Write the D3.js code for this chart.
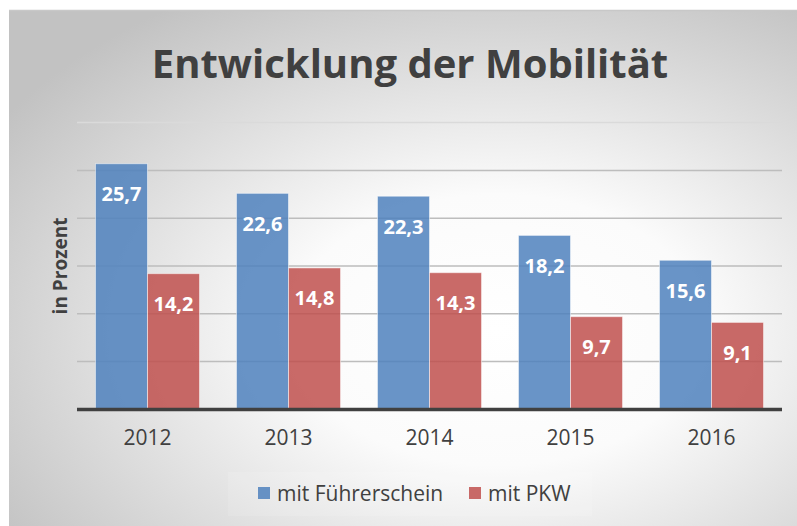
<!DOCTYPE html>
<html>
<head>
<meta charset="utf-8">
<script src="https://cdn.jsdelivr.net/npm/d3@7"></script>
<style>
  body { margin: 0; background: #fff; }
  text { font-family: "Open Sans", "DejaVu Sans", sans-serif; }
</style>
</head>
<body>
<div id="vis"></div>
<script>
var width = 797,
    height = 526;

var years = ["2012", "2013", "2014", "2015", "2016"];
var fuehrerschein = [25.7, 22.6, 22.3, 18.2, 15.6];
var pkw = [14.2, 14.8, 14.3, 9.7, 9.1];
var seriesNames = ["mit Führerschein", "mit PKW"];
var yTicks = [0, 5, 10, 15, 20, 25, 30];

var colors = ["#4f81bd", "#c0504d"];

var margin = {top: 122, right: 15, bottom: 117, left: 77};

var svg = d3.select('#vis').append('svg')
    .attr("width", width)
    .attr("height", height);

// gray radial background like the office chart style
var defs = svg.append("defs");
var grad = defs.append("radialGradient")
    .attr("id", "bg")
    .attr("cx", "62%").attr("cy", "62%")
    .attr("r", "75%");
grad.append("stop").attr("offset", "0%").attr("stop-color", "#ffffff");
grad.append("stop").attr("offset", "35%").attr("stop-color", "#fbfbfb");
grad.append("stop").attr("offset", "100%").attr("stop-color", "#c2c2c2");

svg.append("rect")
    .attr("x", 9).attr("y", 10)
    .attr("width", width - 9).attr("height", height - 10)
    .attr("fill", "url(#bg)");
svg.append("line")
    .attr("x1", 9).attr("x2", width)
    .attr("y1", 10.5).attr("y2", 10.5)
    .attr("stroke", "#c8c8c8").attr("stroke-width", 1.5);

var x0 = d3.scaleBand()
    .domain(years)
    .range([margin.left, width - margin.right])
    .paddingInner(0.262)
    .paddingOuter(0.131);

var x1 = d3.scaleBand()
    .domain([0, 1])
    .range([0, x0.bandwidth()]);

var y = d3.scaleLinear()
    .domain([0, 30])
    .range([409.4, 122.6]);

// gridlines
svg.append("g")
    .selectAll("line")
    .data(yTicks.slice(1))
    .enter()
    .append("line")
    .attr("x1", margin.left)
    .attr("x2", width - margin.right)
    .attr("y1", function(d) { return y(d); })
    .attr("y2", function(d) { return y(d); })
    .attr("stroke", function(d) { return d == 30 ? "#dadada" : "#bdbdbd"; })
    .attr("stroke-width", 1.5);

var rows = years.map(function(yr, i) {
    return {year: yr, values: [fuehrerschein[i], pkw[i]]};
});

var groups = svg.append("g")
    .selectAll("g")
    .data(rows)
    .enter()
    .append("g")
    .attr("transform", function(d) { return "translate(" + x0(d.year) + ",0)"; });

groups.selectAll("rect")
    .data(function(d) { return d.values; })
    .enter()
    .append("rect")
    .attr("x", function(d, i) { return x1(i); })
    .attr("y", function(d) { return y(d); })
    .attr("width", x1.bandwidth())
    .attr("height", function(d) { return y(0) - y(d); })
    .attr("fill", function(d, i) { return colors[i]; })
    .attr("fill-opacity", 0.85)
    .attr("stroke", "#ffffff")
    .attr("stroke-opacity", 0.5)
    .attr("stroke-width", 1);

groups.selectAll("text")
    .data(function(d) { return d.values; })
    .enter()
    .append("text")
    .attr("x", function(d, i) { return x1(i) + x1.bandwidth() / 2; })
    .attr("y", function(d) { return y(d) + 30; })
    .attr("text-anchor", "middle")
    .attr("dominant-baseline", "central")
    .attr("fill", "#fff")
    .attr("font-weight", "bold")
    .attr("font-size", 20)
    .text(function(d) { return String(d).replace(".", ","); });

// baseline axis
svg.append("line")
    .attr("x1", margin.left)
    .attr("x2", width - margin.right)
    .attr("y1", y(0))
    .attr("y2", y(0))
    .attr("stroke", "#404040")
    .attr("stroke-width", 3.5);

var xAxis = svg.append("g")
    .attr("transform", "translate(0," + (y(0) + 21) + ")")
    .call(d3.axisBottom(x0).tickSize(0).tickPadding(0));
xAxis.select(".domain").remove();
xAxis.selectAll("text")
    .attr("font-size", 21)
    .attr("fill", "#404040")
    .attr("font-family", "Open Sans");

// title
svg.append("text")
    .attr("x", 410)
    .attr("y", 78)
    .attr("text-anchor", "middle")
    .attr("font-weight", "bold")
    .attr("font-size", 40)
    .attr("fill", "#404040")
    .text("Entwicklung der Mobilität");

// y axis title
svg.append("text")
    .attr("transform", "translate(67,266) rotate(-90)")
    .attr("text-anchor", "middle")
    .attr("font-weight", "bold")
    .attr("font-size", 19)
    .attr("fill", "#404040")
    .text("in Prozent");

// legend, with the faint light box behind it
svg.append("rect")
    .attr("x", 228).attr("y", 472)
    .attr("width", 364).attr("height", 44)
    .attr("fill", "#fff")
    .attr("fill-opacity", 0.12);

var legendPos = [258, 469];
var legend = svg.append("g")
    .selectAll("g")
    .data(seriesNames)
    .enter()
    .append("g")
    .attr("transform", function(d, i) { return "translate(" + legendPos[i] + ",493)"; });

legend.append("rect")
    .attr("x", 0).attr("y", -6)
    .attr("width", 12).attr("height", 12)
    .attr("fill", function(d, i) { return colors[i]; })
    .attr("fill-opacity", 0.85);

legend.append("text")
    .attr("x", 19)
    .attr("y", 0)
    .attr("dominant-baseline", "central")
    .attr("font-size", 21)
    .attr("fill", "#404040")
    .text(function(d) { return d; });
</script>
</body>
</html>
